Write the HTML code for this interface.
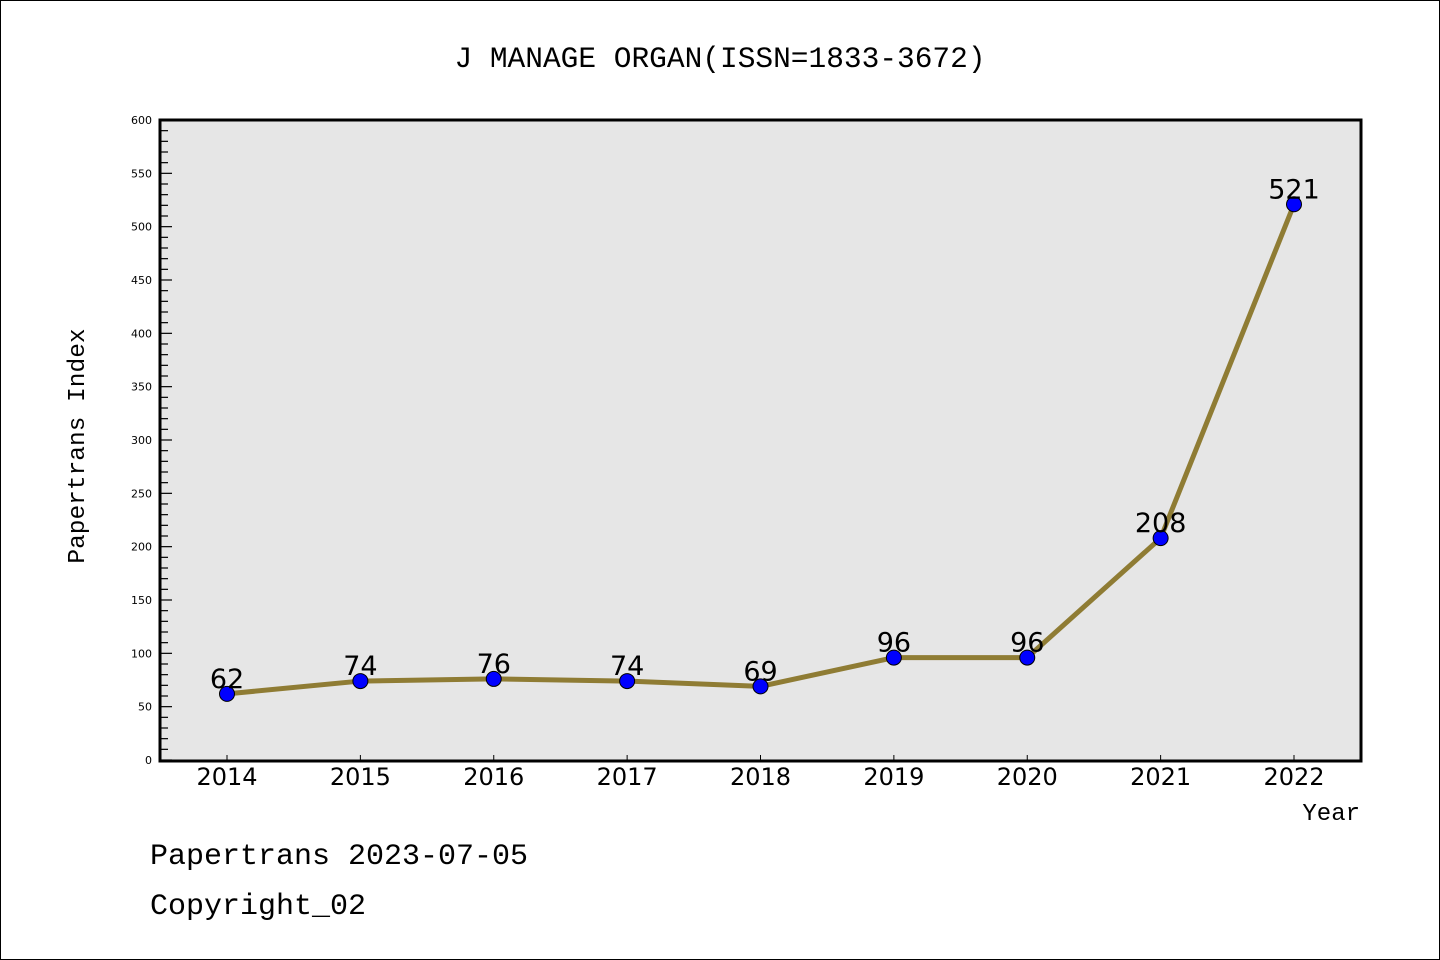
<!DOCTYPE html>
<html><head><meta charset="utf-8"><style>
body{margin:0;background:#fff}
svg{display:block}
.mono{font-family:"Liberation Mono",monospace}
.sans{font-family:"DejaVu Sans","Liberation Sans",sans-serif}
</style></head><body>
<svg id="chart" width="1440" height="960" xmlns="http://www.w3.org/2000/svg">
<rect x="0.5" y="0.5" width="1439" height="959" fill="#fff" stroke="#000"/>
<text x="720" y="67" text-anchor="middle" class="mono" font-size="29.5">J MANAGE ORGAN(ISSN=1833-3672)</text>
<rect x="160" y="120" width="1201" height="641" fill="#e6e6e6"/>
<g id="yaxis"></g>
<g id="xaxis"></g>
<g id="series"></g>
<rect x="160" y="120" width="1201" height="641" fill="none" stroke="#000" stroke-width="3"/>
<text transform="translate(84,446) rotate(-90)" text-anchor="middle" class="mono" font-size="24.5">Papertrans Index</text>
<text x="1360" y="820" text-anchor="end" class="mono" font-size="24">Year</text>
<text x="150" y="864" class="mono" font-size="30">Papertrans 2023-07-05</text>
<text x="150" y="914" class="mono" font-size="30">Copyright_02</text>
</svg>
<script>
const years = ["2014","2015","2016","2017","2018","2019","2020","2021","2022"];
const values = [62,74,76,74,69,96,96,208,521];
const yTicks = [0,50,100,150,200,250,300,350,400,450,500,550,600];
const NS="http://www.w3.org/2000/svg";
const x0=227,x1=1294,yTop=120,yBot=760,yMax=600;
function xs(i){return x0+(x1-x0)*i/(years.length-1);}
function ys(v){return yBot-(yBot-yTop)*v/yMax;}
function mk(tag,attrs,parent){const e=document.createElementNS(NS,tag);for(const k in attrs)e.setAttribute(k,attrs[k]);parent.appendChild(e);return e;}
const ya=document.getElementById('yaxis');
for(let v=0;v<=yMax;v+=10){
  const major=v%50===0;
  const t=mk('line',{x1:160,x2:major?172:168,y1:ys(v),y2:ys(v),stroke:'#000','stroke-width':1.2},ya);
  
  
}
yTicks.forEach(v=>{
  const t=mk('text',{x:152,y:ys(v)+4,'text-anchor':'end','font-size':11,class:'sans'},ya);
  t.textContent=v;
  
  
});
const xa=document.getElementById('xaxis');
years.forEach((y,i)=>{
  const l=mk('line',{x1:xs(i),x2:xs(i),y1:760,y2:755,stroke:'#000','stroke-width':1},xa);
  
  
  const t=mk('text',{x:xs(i),y:785,'text-anchor':'middle','font-size':24,class:'sans'},xa);
  t.textContent=y;
  
  
});
const sg=document.getElementById('series');
const pts=values.map((v,i)=>xs(i)+','+ys(v)).join(' ');
const pl=mk('polyline',{points:pts,fill:'none',stroke:'#8f7c34','stroke-width':5,'stroke-linejoin':'round'},sg);


values.forEach((v,i)=>{
  const c=mk('circle',{cx:xs(i),cy:ys(v),r:7.5,fill:'#0000ff',stroke:'#000','stroke-width':1},sg);
  
  
  const t=mk('text',{x:xs(i),y:ys(v)-6,'text-anchor':'middle','font-size':27,class:'sans'},sg);
  t.textContent=v;
  
  
});
</script>
</body></html>
